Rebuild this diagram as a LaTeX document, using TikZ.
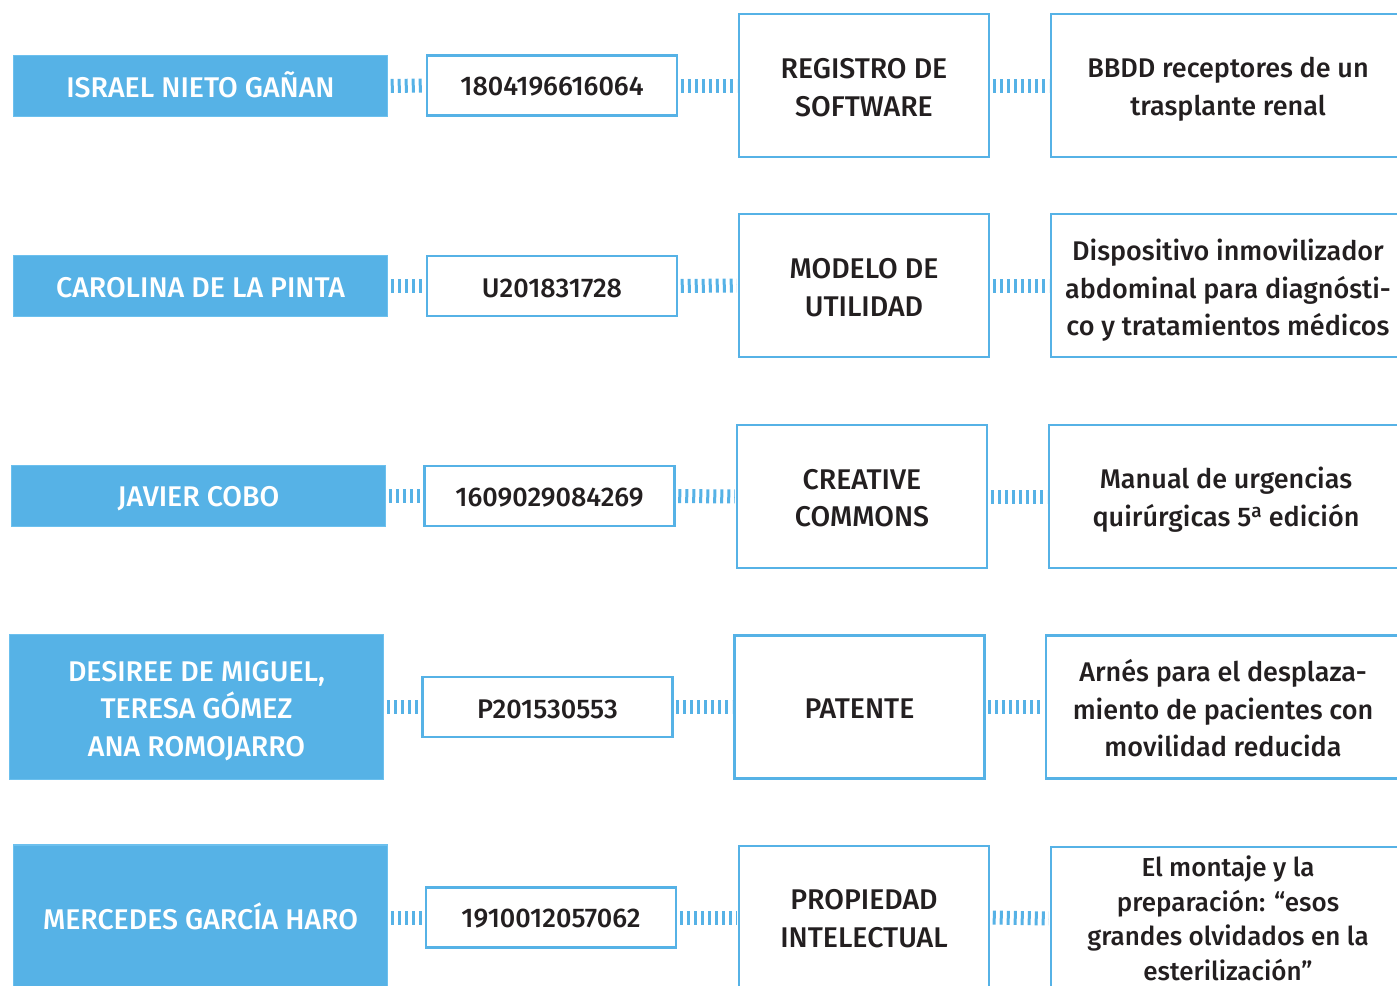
\documentclass[tikz,border=0pt]{standalone}
\usepackage{fontspec}
\setmainfont{Fira Sans}[UprightFont=* Medium]
\definecolor{cblue}{HTML}{56B2E6}
\definecolor{cedge}{HTML}{6CC0EE}
\definecolor{ctext}{HTML}{231F20}
\begin{document}
\begin{tikzpicture}[x=1pt,y=-1pt,
  txt/.style={inner sep=0pt, align=center, text=ctext, font=\fontsize{27}{37.5}\selectfont},
  caps/.style={txt, font=\fontsize{28.5}{37.5}\selectfont},
  wcaps/.style={caps, text=white},
  namebox/.style={fill=cblue, draw=cedge, line width=1.5pt, minimum width=374pt},
  numbox/.style={fill=white, draw=cblue, line width=2.5pt, minimum width=250pt, minimum height=60pt},
  typebox/.style={fill=white, draw=cblue, line width=2.5pt, minimum width=250pt, minimum height=143pt},
  descbox/.style={fill=white, draw=cblue, line width=2.5pt, minimum width=354pt, minimum height=143pt},
  hatch/.style={draw=cblue, line width=14pt, dash pattern=on 3pt off 4pt, shorten <=2.5pt, shorten >=1pt}]
\useasboundingbox (0,0) rectangle (1397,985);
% row 1
\node[namebox, minimum height=61pt] (n1) at (200.5,86) {};
\node[numbox] (c1) at (552,85.5) {};
\node[typebox] (t1) at (864,85.5) {};
\node[descbox] (d1) at (1228,85.5) {};
\node[wcaps, yshift=1pt] (n1t) at (n1) {ISRAEL NIETO GAÑAN};
\node[txt, yshift=-1pt] (c1t) at (c1) {1804196616064};
\node[caps, yshift=-2pt] (t1t) at (t1) {REGISTRO DE\\SOFTWARE};
\node[txt, yshift=-3.5pt] (d1t) at (d1) {BBDD receptores de un\\trasplante renal};
% row 2
\node[namebox, minimum height=61pt] (n2) at (200.5,286) {};
\node[numbox] (c2) at (552,286) {};
\node[typebox] (t2) at (864,285.5) {};
\node[descbox] (d2) at (1228,285.5) {};
\node[wcaps, yshift=-2pt] (n2t) at (n2) {CAROLINA DE LA PINTA};
\node[txt, yshift=-2pt] (c2t) at (c2) {U201831728};
\node[caps, yshift=-2pt] (t2t) at (t2) {MODELO DE\\UTILIDAD};
\node[txt, yshift=-5pt] (d2t) at (d2) {Dispositivo inmovilizador\\abdominal para diagnósti-\\co y tratamientos médicos};
% row 3
\node[namebox, minimum height=61pt] (n3) at (198.5,496) {};
\node[numbox] (c3) at (549.5,496) {};
\node[typebox] (t3) at (862,496.5) {};
\node[descbox] (d3) at (1226,496.5) {};
\node[wcaps, yshift=-3pt] (n3t) at (n3) {JAVIER COBO};
\node[txt, yshift=-2pt] (c3t) at (c3) {1609029084269};
\node[caps, yshift=-1.5pt] (t3t) at (t3) {CREATIVE\\COMMONS};
\node[txt, yshift=-3pt] (d3t) at (d3) {Manual de urgencias\\quirúrgicas 5\textsuperscript{a} edición};
% row 4
\node[namebox, minimum height=145pt] (n4) at (196.5,707) {};
\node[numbox] (c4) at (547.5,707) {};
\node[typebox] (t4) at (859.5,707) {};
\node[descbox] (d4) at (1223,707) {};
\node[wcaps, yshift=-4pt] (n4t) at (n4) {DESIREE DE MIGUEL,\\TERESA GÓMEZ\\ANA ROMOJARRO};
\node[txt, yshift=-2pt] (c4t) at (c4) {P201530553};
\node[caps, yshift=-2pt] (t4t) at (t4) {PATENTE};
\node[txt, yshift=-1.5pt] (d4t) at (d4) {Arnés para el desplaza-\\miento de pacientes con\\movilidad reducida};
% row 5
\node[namebox, minimum height=145pt] (n5) at (200.5,917.5) {};
\node[numbox] (c5) at (551,917.5) {};
\node[typebox] (t5) at (864,917.5) {};
\node[descbox] (d5) at (1228,918.5) {};
\node[wcaps, yshift=1pt] (n5t) at (n5) {MERCEDES GARCÍA HARO};
\node[txt, yshift=-1pt] (c5t) at (c5) {1910012057062};
\node[caps, yshift=-1pt] (t5t) at (t5) {PROPIEDAD\\INTELECTUAL};
\node[txt, font=\fontsize{26}{34.5}\selectfont] (d5t) at (d5) {El montaje y la\\preparación: “esos\\grandes olvidados en la\\esterilización”};
% connectors
\foreach \i in {1,...,5}{
  \draw[hatch] (n\i.east) -- (c\i.west);
  \draw[hatch] (c\i.east) -- (t\i.west);
  \draw[hatch] (t\i.east) -- (d\i.west);
}
\end{tikzpicture}
\end{document}
